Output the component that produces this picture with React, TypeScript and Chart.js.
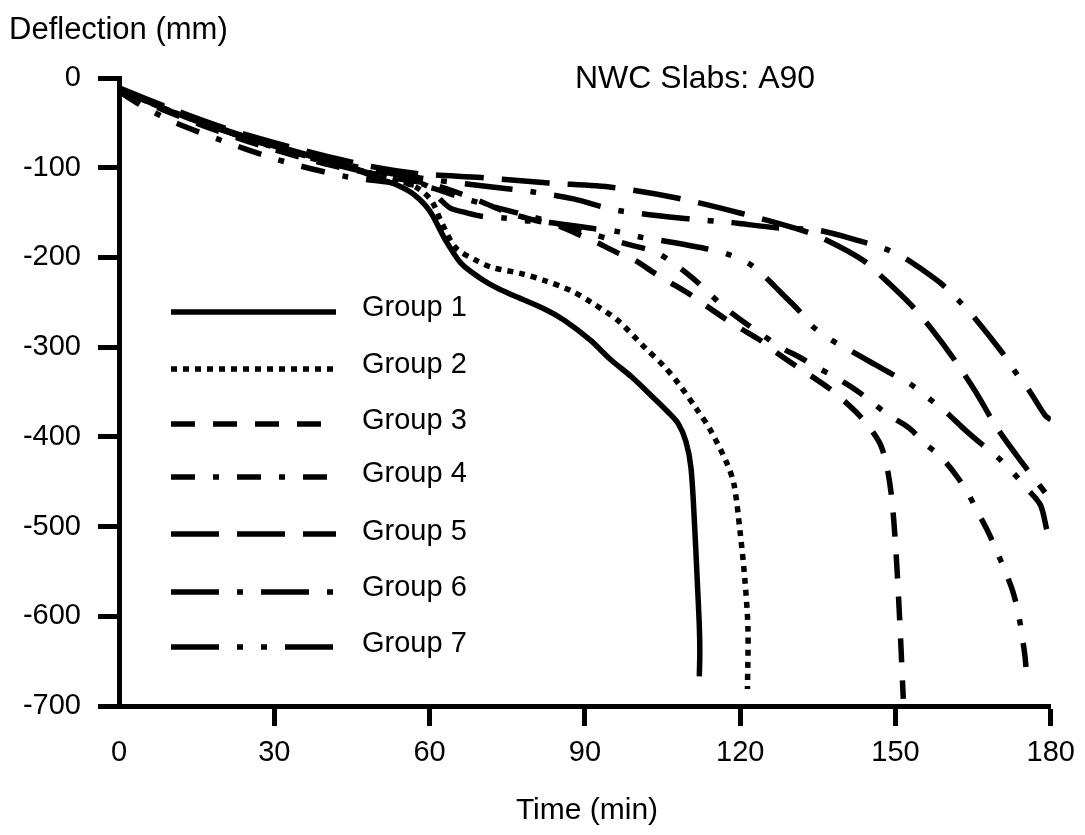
import { useEffect, useRef } from "react";
import { Chart, registerables } from "chart.js";

Chart.register(...registerables);

const FONT = '"Liberation Sans", Arial, Helvetica, sans-serif';

const groupNames = ["Group 1", "Group 2", "Group 3", "Group 4", "Group 5", "Group 6", "Group 7"];
const dashPatterns: number[][] = [
  [],
  [6, 6],
  [24, 18],
  [24, 18, 6, 18],
  [48, 18],
  [48, 18, 6, 18],
  [48, 18, 6, 18, 6, 18],
];

const xTickValues = [0, 30, 60, 90, 120, 150, 180];
const yTickValues = [0, -100, -200, -300, -400, -500, -600, -700];

// Group 1
const g1Time = [0, 5, 10, 15, 20, 25, 30, 35, 40, 45, 50, 54, 57, 60, 63, 66, 69.5, 73, 76, 82, 86, 91, 95, 99, 103, 106, 108, 109.5, 110.5, 111.2, 111.7, 112.1, 112.2, 112.1];
const g1Defl = [-13, -25, -37, -48, -58, -67, -76, -84, -92, -100, -112, -120, -130, -148, -180, -206, -222, -234, -242, -257, -270, -292, -314, -333, -355, -372, -385, -405, -435, -500, -560, -610, -640, -667];

// Group 2
const g2Time = [0, 10, 20, 30, 40, 50, 55, 58, 60.4, 62.4, 65, 68.9, 72, 77.7, 82.3, 87.3, 91.2, 96.3, 101.5, 105.4, 108, 111.7, 114.2, 117.4, 118.8, 120, 120.9, 121.5, 121.4];
const g2Defl = [-13, -37, -58, -77, -93, -108, -116, -124, -137, -162, -189, -203, -211, -218, -226, -237, -250, -270, -300, -322, -340, -370, -392, -429, -453, -507, -559, -614, -681];

// Group 3
const g3Time = [0, 10, 20, 30, 40, 50, 55, 60, 65, 70, 75, 80, 85, 89, 92.5, 96.7, 99.6, 103.6, 106.5, 110.5, 113.2, 117, 120, 123.8, 127, 130.5, 133.4, 137.2, 139.9, 143, 145.3, 147.2, 148.4, 149.3, 150, 150.6, 151.1, 151.5];
const g3Defl = [-14, -39, -61, -80, -96, -108, -113, -118, -127, -138, -150, -158, -165, -175, -184, -196, -203, -218, -228, -242, -253, -268, -279, -292, -306, -320, -331, -346, -359, -376, -392, -410, -435, -470, -520, -580, -640, -692];

// Group 4
const g4Time = [0, 5, 11, 20, 29, 35, 44, 52, 60, 66, 72, 78, 85, 92, 98, 103.6, 107.5, 111, 114, 117, 120.7, 124, 127.4, 131.4, 135, 138.5, 142.4, 145.6, 148.7, 152.6, 155.6, 158.7, 161.6, 163.9, 165.8, 167.9, 169.6, 171.2, 172.7, 173.7, 174.4, 175, 175.4];
const g4Defl = [-15, -33, -50, -70, -88, -98, -110, -116, -122, -133, -143, -152, -163, -175, -185, -194, -208, -224, -240, -256, -272, -285, -299, -311, -323, -334, -348, -362, -376, -390, -407, -422, -442, -462, -483, -506, -528, -550, -573, -596, -620, -644, -670];

// Group 5
const g5Time = [0, 10, 20, 30, 40, 50, 58.5, 70, 83, 95.4, 108, 120.3, 130.9, 135.7, 143.7, 148, 153, 157, 161, 165.5, 169.6, 175, 178.9];
const g5Defl = [-11, -34, -55, -72, -87, -100, -107, -111, -117, -122, -134, -151, -168, -178, -203, -225, -253, -280, -311, -350, -390, -433, -462];

// Group 6
const g6Time = [0, 10, 20, 30, 40, 50, 60, 70, 80, 88, 93, 96.7, 100.7, 110, 118, 127, 135.3, 143.9, 147.8, 151.6, 155, 159, 162, 164.8, 170.6, 172.7, 176, 178.9, 180];
const g6Defl = [-12, -35, -57, -75, -91, -104, -113, -120, -127, -135, -143, -148, -151, -157, -161, -167, -170, -183, -190, -200, -213, -230, -247, -264, -306, -324, -350, -376, -381];

// Group 7
const g7Time = [0, 10, 20, 30, 40, 50, 58, 60, 62, 64, 67, 70, 74.3, 78.5, 82.9, 91.9, 96.1, 100.4, 104.6, 113.2, 117.4, 121.7, 124.5, 128, 131.3, 134, 137.6, 141, 145, 149, 152.6, 156.4, 159.7, 163, 166.4, 169.6, 172.7, 175.6, 178, 179.2];
const g7Defl = [-12, -36, -58, -77, -94, -108, -117, -122, -135, -145, -150, -154, -156, -159, -161, -168, -171, -177, -181, -190, -196, -207, -220, -240, -259, -277, -292, -303, -316, -329, -340, -357, -372, -390, -407, -422, -440, -459, -476, -503];

// Legend swatch rows and label baselines
const legendLineY = [312, 369, 424, 477, 534, 592, 647];
const legendTextY = [316, 373, 429, 482, 540, 596, 652];

const LINE_W = 5.5;

const annotations = {
  id: "annotations",
  afterDraw(chart: Chart) {
    const ctx = chart.ctx;
    ctx.save();
    ctx.fillStyle = "#000";
    ctx.textBaseline = "alphabetic";
    ctx.textAlign = "left";
    ctx.font = `31px ${FONT}`;
    ctx.fillText("Deflection (mm)", 9, 39);
    ctx.font = `32px ${FONT}`;
    ctx.fillText("NWC Slabs: A90", 575, 88);
    ctx.font = `30px ${FONT}`;
    ctx.textAlign = "center";
    ctx.fillText("Time (min)", 587, 819);

    ctx.font = `29px ${FONT}`;
    ctx.textAlign = "left";
    ctx.strokeStyle = "#000";
    ctx.lineWidth = LINE_W;
    ctx.lineCap = "butt";
    groupNames.forEach((name, i) => {
      ctx.setLineDash(dashPatterns[i]);
      ctx.beginPath();
      ctx.moveTo(171, legendLineY[i]);
      ctx.lineTo(336, legendLineY[i]);
      ctx.stroke();
      ctx.fillText(name, 362, legendTextY[i]);
    });
    ctx.restore();
  },
};

export default function App() {
  const ref = useRef<HTMLCanvasElement>(null);

  useEffect(() => {
    const series = [
      [g1Time, g1Defl],
      [g2Time, g2Defl],
      [g3Time, g3Defl],
      [g4Time, g4Defl],
      [g5Time, g5Defl],
      [g6Time, g6Defl],
      [g7Time, g7Defl],
    ];
    const chart = new Chart(ref.current!, {
      type: "line",
      data: {
        datasets: series.map(([t, d], i) => ({
          label: groupNames[i],
          data: t.map((x, k) => ({ x, y: d[k] })),
          borderColor: "#000",
          borderWidth: LINE_W,
          borderDash: dashPatterns[i],
          borderCapStyle: "butt",
          pointRadius: 0,
          tension: 0.3,
          fill: false,
        })),
      },
      options: {
        animation: false,
        responsive: false,
        devicePixelRatio: 1,
        layout: { padding: { top: 78, right: 29, left: 0, bottom: 0 } },
        plugins: {
          legend: { display: false },
          tooltip: { enabled: false },
        },
        scales: {
          x: {
            type: "linear",
            min: 0,
            max: 180,
            afterFit: (s: any) => {
              s.height = 129;
            },
            afterBuildTicks: (s: any) => {
              s.ticks = xTickValues.map((v) => ({ value: v }));
            },
            ticks: {
              color: "#000",
              font: { family: FONT, size: 29 },
              padding: 10,
              maxRotation: 0,
            },
            grid: {
              drawOnChartArea: false,
              drawTicks: true,
              tickLength: 20,
              tickWidth: 5,
              tickColor: (c: any) => (c.tick && c.tick.value === 0 ? "rgba(0,0,0,0)" : "#000"),
            },
            border: { display: true, color: "#000", width: 5 },
          },
          y: {
            type: "linear",
            min: -700,
            max: 0,
            afterFit: (s: any) => {
              s.width = 119;
            },
            afterBuildTicks: (s: any) => {
              s.ticks = yTickValues.map((v) => ({ value: v }));
            },
            ticks: {
              color: "#000",
              font: { family: FONT, size: 29 },
              padding: 17,
            },
            grid: {
              drawOnChartArea: false,
              drawTicks: true,
              tickLength: 21,
              tickWidth: 5,
              tickColor: "#000",
            },
            border: { display: true, color: "#000", width: 5 },
          },
        },
      },
      plugins: [annotations],
    });
    return () => chart.destroy();
  }, []);

  return (
    <div style={{ position: "fixed", left: 0, top: 0, width: 1085, height: 835, background: "#fff" }}>
      <canvas ref={ref} width={1085} height={835} style={{ display: "block" }} />
    </div>
  );
}
